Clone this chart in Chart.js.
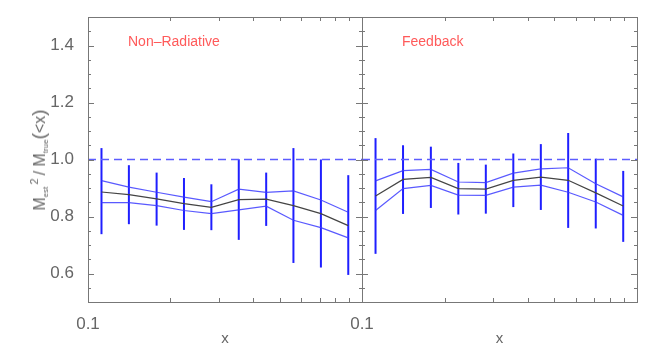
<!DOCTYPE html>
<html>
<head>
<meta charset="utf-8">
<script src="https://cdn.jsdelivr.net/npm/chart.js@4/dist/chart.umd.min.js"></script>
<style>
  body { margin: 0; background: #fff; }
  #wrap { position: relative; width: 654px; height: 348px; }
  #wrap canvas { position: absolute; left: 0; top: 0; }
  #ytitle {
    position: absolute; left: 40px; top: 160px;
    transform: translate(-50%, -50%) rotate(-90deg);
    white-space: nowrap; font: 16px "Liberation Sans", sans-serif; color: #666;
    line-height: 20px;
  }
  #ytitle sub { font-size: 8px; vertical-align: -3px; }
  #ytitle sup { font-size: 11px; vertical-align: 7px; margin-left: 2px; margin-right: 3px; }
  #ytitle .p { font-size: 19px; }
</style>
</head>
<body>
<div id="wrap">
  <canvas id="left" width="654" height="348"></canvas>
  <canvas id="right" width="654" height="348"></canvas>
  <div id="ytitle">M<sub>est</sub><sup>2</sup>/ M<sub>true</sub><span class="p">(</span>&lt;x<span class="p">)</span></div>
</div>
<script>
// bin centres (same in both panels)
const xVals = [0.112, 0.141, 0.178, 0.224, 0.282, 0.355, 0.447, 0.562, 0.708, 0.891];

// Non-Radiative
const nrMid   = [0.886, 0.877, 0.862, 0.845, 0.832, 0.859, 0.861, 0.838, 0.810, 0.768];
const nrUp    = [0.926, 0.903, 0.885, 0.868, 0.852, 0.896, 0.885, 0.890, 0.858, 0.815];
const nrLo    = [0.849, 0.849, 0.838, 0.821, 0.810, 0.823, 0.836, 0.787, 0.761, 0.725];
const nrErrHi = [1.040, 0.980, 0.954, 0.935, 0.913, 1.001, 0.954, 1.040, 1.000, 0.945];
const nrErrLo = [0.738, 0.773, 0.768, 0.753, 0.752, 0.718, 0.767, 0.637, 0.621, 0.595];

// Feedback
const fbMid   = [0.872, 0.930, 0.937, 0.898, 0.896, 0.927, 0.938, 0.927, 0.883, 0.837];
const fbUp    = [0.925, 0.961, 0.965, 0.921, 0.919, 0.952, 0.967, 0.971, 0.915, 0.869];
const fbLo    = [0.821, 0.898, 0.909, 0.875, 0.874, 0.903, 0.910, 0.885, 0.851, 0.804];
const fbErrHi = [1.075, 1.050, 1.045, 0.988, 0.982, 1.021, 1.054, 1.093, 1.003, 0.960];
const fbErrLo = [0.669, 0.809, 0.830, 0.807, 0.810, 0.833, 0.823, 0.760, 0.758, 0.711];

// axes
const yMajor = [0.6, 0.8, 1.0, 1.2, 1.4];
const yMinor = [0.55, 0.65, 0.7, 0.75, 0.85, 0.9, 0.95, 1.05, 1.1, 1.15, 1.25, 1.3, 1.35, 1.45];
const xMinor = [0.2, 0.3, 0.4, 0.5, 0.6, 0.7, 0.8, 0.9];
const xLabels = [0.1];
const refLine = 1.0;

const FONT = '"Liberation Sans", Arial, sans-serif';

// frame + inward ticks + panel label
const framePlugin = {
  id: 'frame',
  afterDraw(chart, args, opts) {
    const {ctx, chartArea: a, scales} = chart;
    ctx.save();
    ctx.strokeStyle = '#777';
    ctx.lineWidth = 1;
    ctx.strokeRect(a.left + 0.5, a.top + 0.5, a.right - a.left, a.bottom - a.top);
    ctx.beginPath();
    const tickY = (v, len) => {
      const py = Math.round(scales.y.getPixelForValue(v)) + 0.5;
      ctx.moveTo(a.left, py); ctx.lineTo(a.left + len, py);
      ctx.moveTo(a.right, py); ctx.lineTo(a.right - len, py);
    };
    yMajor.forEach(v => tickY(v, 6));
    yMinor.forEach(v => tickY(v, 3));
    xMinor.forEach(v => {
      const px = Math.round(scales.x.getPixelForValue(v)) + 0.5;
      ctx.moveTo(px, a.bottom); ctx.lineTo(px, a.bottom - 4);
      ctx.moveTo(px, a.top); ctx.lineTo(px, a.top + 4);
    });
    ctx.stroke();
    ctx.fillStyle = '#ff5a5a';
    ctx.font = '14px ' + FONT;
    ctx.textBaseline = 'alphabetic';
    ctx.fillText(opts.label, a.left + 40, a.top + 29);
    ctx.restore();
  }
};

function makeDatasets(mid, up, lo, errHi, errLo) {
  const ds = [];
  ds.push({
    data: [{x: 0.1, y: refLine}, {x: 1, y: refLine}],
    borderColor: '#5c5cff', borderWidth: 1.3, borderDash: [8, 5]
  });
  [up, lo].forEach(arr => ds.push({
    data: xVals.map((x, i) => ({x, y: arr[i]})),
    borderColor: 'rgba(60,60,255,0.85)', borderWidth: 1.2
  }));
  ds.push({
    data: xVals.map((x, i) => ({x, y: mid[i]})),
    borderColor: '#444', borderWidth: 1.2
  });
  xVals.forEach((x, i) => ds.push({
    data: [{x, y: errLo[i]}, {x, y: errHi[i]}],
    borderColor: '#1f1fff', borderWidth: 2
  }));
  return ds;
}

function makeChart(id, label, datasets, showY, padRight, yWidth) {
  return new Chart(document.getElementById(id), {
    type: 'line',
    data: {datasets},
    options: {
      responsive: false,
      animation: false,
      layout: {padding: {top: 17, right: padRight, left: 0, bottom: 0}},
      elements: {point: {radius: 0}, line: {tension: 0}},
      plugins: {legend: {display: false}, tooltip: {enabled: false}, frame: {label}},
      scales: {
        x: {
          type: 'logarithmic', min: 0.1, max: 1,
          grid: {display: false}, border: {display: false},
          afterBuildTicks: s => { s.ticks = xLabels.map(v => ({value: v})); },
          afterFit: s => { s.height = 46; },
          ticks: {
            autoSkip: false, maxRotation: 0, padding: 4, color: '#666',
            font: {family: FONT, size: 17},
            callback: v => v.toFixed(1)
          },
          title: {display: true, text: 'x', color: '#666', padding: 0, font: {family: FONT, size: 15}}
        },
        y: {
          type: 'linear', min: 0.5, max: 1.5,
          grid: {display: false}, border: {display: false},
          afterBuildTicks: s => { s.ticks = yMajor.map(v => ({value: v})); },
          afterFit: s => { s.width = yWidth; },
          ticks: {
            display: showY, padding: 6, color: '#666',
            font: {family: FONT, size: 17},
            callback: v => v.toFixed(1)
          }
        }
      }
    },
    plugins: [framePlugin]
  });
}

makeChart('left', 'Non\u2013Radiative', makeDatasets(nrMid, nrUp, nrLo, nrErrHi, nrErrLo), true, 292, 88);
makeChart('right', 'Feedback', makeDatasets(fbMid, fbUp, fbLo, fbErrHi, fbErrLo), false, 17, 362);
</script>
</body>
</html>
